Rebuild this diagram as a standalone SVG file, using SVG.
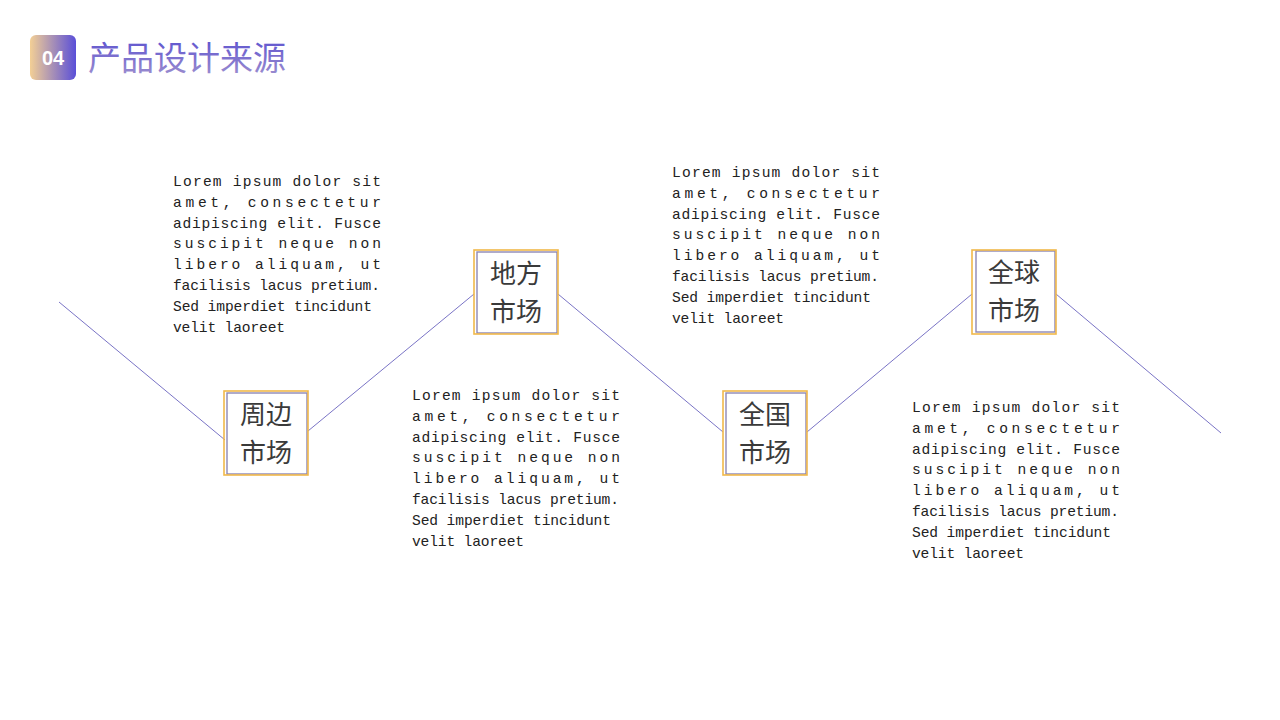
<svg xmlns="http://www.w3.org/2000/svg" width="1280" height="720" viewBox="0 0 1280 720">
<defs>
<linearGradient id="badgeGrad" x1="0" y1="0" x2="1" y2="0">
<stop offset="0" stop-color="#f3cf95"/>
<stop offset="1" stop-color="#5a4fd8"/>
</linearGradient>
<linearGradient id="titleGrad" x1="0" y1="0" x2="0" y2="1">
<stop offset="0" stop-color="#5249cf"/>
<stop offset="1" stop-color="#a394cf"/>
</linearGradient>
<style>
.conn{stroke:#7a74c6;stroke-width:1;fill:none}
.outer{fill:none;stroke:#f0b84a;stroke-width:1.6}
.inner{fill:#fff;stroke:#8e88b4;stroke-width:1.4}
.label{font-family:"Noto Sans CJK SC","Noto Sans",sans-serif;font-size:26px;fill:#3a3a3a;text-anchor:middle}
.body{font-family:"Liberation Mono","DejaVu Sans Mono",monospace;font-size:14.6px;fill:#222}
</style>
</defs>
<rect width="1280" height="720" fill="#ffffff"/>
<g id="header">
<rect x="30" y="35" width="46" height="45" rx="6" fill="url(#badgeGrad)"/>
<text x="53" y="65" font-family="Liberation Sans, Arial, sans-serif" font-weight="bold" font-size="20" fill="#ffffff" text-anchor="middle">04</text>
<text x="88" y="70" font-family="Noto Sans CJK SC, sans-serif" font-size="33" fill="url(#titleGrad)">产品设计来源</text>
</g>
<g id="connectors">
<line class="conn" x1="59" y1="302" x2="225" y2="440"/>
<line class="conn" x1="308" y1="431" x2="474" y2="294"/>
<line class="conn" x1="558" y1="294" x2="723" y2="432"/>
<line class="conn" x1="807" y1="432" x2="972" y2="294"/>
<line class="conn" x1="1056" y1="294" x2="1221" y2="433"/>
</g>
<g id="node-zhoubian">
<rect class="inner" x="227" y="393" width="80" height="81"/>
<rect class="outer" x="224" y="391" width="84" height="84"/>
<text class="label"><tspan x="266" y="424">周边</tspan><tspan x="266" y="462">市场</tspan></text>
</g>
<g id="node-difang">
<rect class="inner" x="477" y="252" width="80" height="81"/>
<rect class="outer" x="474" y="250" width="84" height="84"/>
<text class="label"><tspan x="516" y="283">地方</tspan><tspan x="516" y="321">市场</tspan></text>
</g>
<g id="node-quanguo">
<rect class="inner" x="726" y="393" width="80" height="81"/>
<rect class="outer" x="723" y="391" width="84" height="84"/>
<text class="label"><tspan x="765" y="424">全国</tspan><tspan x="765" y="462">市场</tspan></text>
</g>
<g id="node-quanqiu">
<rect class="inner" x="976" y="251" width="79" height="81"/>
<rect class="outer" x="972" y="250" width="84" height="84"/>
<text class="label"><tspan x="1014" y="282">全球</tspan><tspan x="1014" y="320">市场</tspan></text>
</g>
<g id="text1" class="body">
<text x="173" y="186" textLength="208" lengthAdjust="spacing">Lorem ipsum dolor sit</text>
<text x="173" y="206.8" textLength="208" lengthAdjust="spacing">amet, consectetur</text>
<text x="173" y="227.6" textLength="208" lengthAdjust="spacing">adipiscing elit. Fusce</text>
<text x="173" y="248.4" textLength="208" lengthAdjust="spacing">suscipit neque non</text>
<text x="173" y="269.2" textLength="208" lengthAdjust="spacing">libero aliquam, ut</text>
<text x="173" y="290" textLength="207" lengthAdjust="spacing">facilisis lacus pretium.</text>
<text x="173" y="310.8" textLength="199" lengthAdjust="spacing">Sed imperdiet tincidunt</text>
<text x="173" y="331.6" textLength="112" lengthAdjust="spacing">velit laoreet</text>
</g>
<g id="text2" class="body">
<text x="412" y="400" textLength="208" lengthAdjust="spacing">Lorem ipsum dolor sit</text>
<text x="412" y="420.8" textLength="208" lengthAdjust="spacing">amet, consectetur</text>
<text x="412" y="441.6" textLength="208" lengthAdjust="spacing">adipiscing elit. Fusce</text>
<text x="412" y="462.4" textLength="208" lengthAdjust="spacing">suscipit neque non</text>
<text x="412" y="483.2" textLength="208" lengthAdjust="spacing">libero aliquam, ut</text>
<text x="412" y="504" textLength="207" lengthAdjust="spacing">facilisis lacus pretium.</text>
<text x="412" y="524.8" textLength="199" lengthAdjust="spacing">Sed imperdiet tincidunt</text>
<text x="412" y="545.6" textLength="112" lengthAdjust="spacing">velit laoreet</text>
</g>
<g id="text3" class="body">
<text x="672" y="177" textLength="208" lengthAdjust="spacing">Lorem ipsum dolor sit</text>
<text x="672" y="197.8" textLength="208" lengthAdjust="spacing">amet, consectetur</text>
<text x="672" y="218.6" textLength="208" lengthAdjust="spacing">adipiscing elit. Fusce</text>
<text x="672" y="239.4" textLength="208" lengthAdjust="spacing">suscipit neque non</text>
<text x="672" y="260.2" textLength="208" lengthAdjust="spacing">libero aliquam, ut</text>
<text x="672" y="281" textLength="207" lengthAdjust="spacing">facilisis lacus pretium.</text>
<text x="672" y="301.8" textLength="199" lengthAdjust="spacing">Sed imperdiet tincidunt</text>
<text x="672" y="322.6" textLength="112" lengthAdjust="spacing">velit laoreet</text>
</g>
<g id="text4" class="body">
<text x="912" y="412" textLength="208" lengthAdjust="spacing">Lorem ipsum dolor sit</text>
<text x="912" y="432.8" textLength="208" lengthAdjust="spacing">amet, consectetur</text>
<text x="912" y="453.6" textLength="208" lengthAdjust="spacing">adipiscing elit. Fusce</text>
<text x="912" y="474.4" textLength="208" lengthAdjust="spacing">suscipit neque non</text>
<text x="912" y="495.2" textLength="208" lengthAdjust="spacing">libero aliquam, ut</text>
<text x="912" y="516" textLength="207" lengthAdjust="spacing">facilisis lacus pretium.</text>
<text x="912" y="536.8" textLength="199" lengthAdjust="spacing">Sed imperdiet tincidunt</text>
<text x="912" y="557.6" textLength="112" lengthAdjust="spacing">velit laoreet</text>
</g>
</svg>
